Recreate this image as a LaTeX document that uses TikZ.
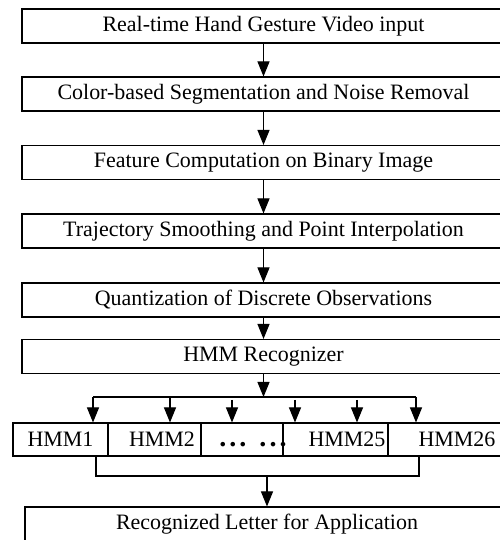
\documentclass[tikz,border=0pt]{standalone}
\usepackage{fontspec}
\setmainfont{Liberation Serif}
\usetikzlibrary{positioning, arrows.meta, calc}

% text nudged right inside a cell (centre moves by #1/2)
\newcommand{\nudge}[2]{\hspace*{#1}\makebox[0pt]{#2}}
\newcommand{\gapdots}{\vphantom{HMM}{\fontsize{16}{16}\bfseries .\kern1.7pt.\kern1.7pt.\kern7.4pt.\kern1.7pt.\kern1.7pt.}}

\begin{document}
\begin{tikzpicture}[>={Triangle[length=0.3cm, width=0.24cm]},
    stage/.style={draw, line width=0.6pt, minimum width=9.66cm, minimum height=0.68cm, inner sep=0pt, font=\fontsize{12.5}{15}\selectfont},
    cell/.style={draw, line width=0.6pt, minimum height=0.66cm, inner sep=0pt, font=\fontsize{12.5}{15}\selectfont},
    link/.style={->, line width=0.6pt},
    wire/.style={line width=0.6pt}]
    \useasboundingbox (0,0) rectangle (10,10.8);
    \clip (0,0) rectangle (10,10.8);

    % Pipeline stages
    \node[stage] (video)   at (5.27,10.28) {Real-time Hand Gesture Video input};
    \node[stage] (segment) at (5.27,8.92)  {Color-based Segmentation and Noise Removal};
    \node[stage] (feature) at (5.27,7.55)  {Feature Computation on Binary Image};
    \node[stage] (smooth)  at (5.27,6.18)  {Trajectory Smoothing and Point Interpolation};
    \node[stage] (quant)   at (5.27,4.80)  {Quantization of Discrete Observations};
    \node[stage] (recog)   at (5.27,3.67)  {HMM Recognizer};

    \draw[link] (video) -- (segment);
    \draw[link] (segment) -- (feature);
    \draw[link] (feature) -- (smooth);
    \draw[link] (smooth) -- (quant);
    \draw[link] (quant) -- (recog);

    % HMM bank
    \node[cell, minimum width=1.90cm] (h1) at (1.21,2.01) {HMM1};
    \node[cell, minimum width=1.86cm] (h2) at (3.09,2.01) {\nudge{0.3cm}{HMM2}};
    \node[cell, minimum width=1.64cm] (h3) at (4.84,2.01) {\nudge{0.44cm}{\gapdots}};
    \node[cell, minimum width=2.10cm] (h4) at (6.71,2.01) {\nudge{0.46cm}{HMM25}};
    \node[cell, minimum width=2.76cm] (h5) at (9.14,2.01) {HMM26};

    % Fan out
    \coordinate (split) at (5.27,2.86);
    \draw[link] (recog) -- (split);
    \coordinate (fl) at (1.86,2.86);
    \coordinate (fr) at (8.32,2.86);
    \draw[wire] (fl) -- (fr);
    \foreach \x/\y/\t [count=\i] in {1.86/2.86/h1, 3.40/2.86/h2, 4.64/2.80/h3, 5.90/2.80/h4, 7.14/2.80/h4, 8.32/2.86/h5}{
        \coordinate (b\i) at (\x,\y);
        \draw[link] (b\i) -- (b\i |- \t.north);
    }

    % Fan in
    \node[stage, minimum width=9.68cm] (letter) at (5.34,0.32) {Recognized Letter for Application};
    \coordinate (cl) at (1.92,1.28);
    \coordinate (cr) at (8.38,1.28);
    \coordinate (merge) at (5.34,1.28);
    \draw[wire] (cl |- h1.south) -- (cl) -- (cr) -- (cr |- h5.south);
    \draw[link] (merge) -- (letter);
\end{tikzpicture}
\end{document}
